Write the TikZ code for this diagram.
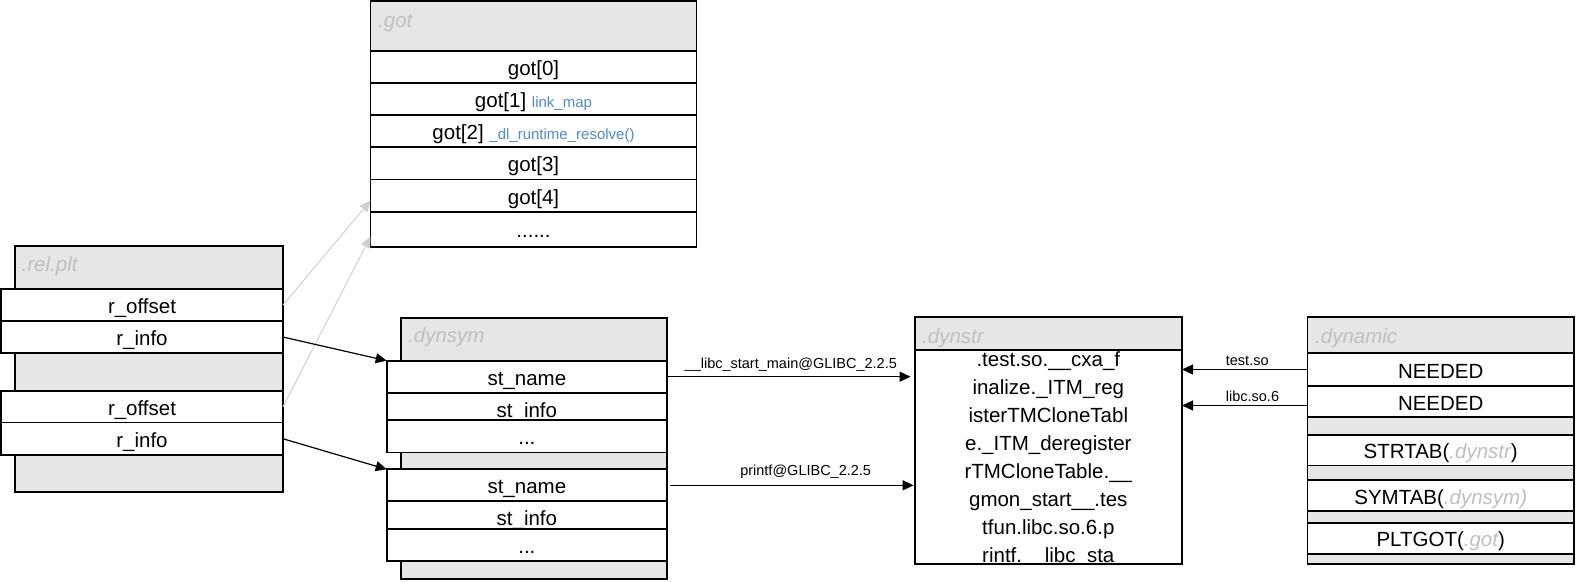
\documentclass[tikz,border=0pt]{standalone}
\usepackage{fontspec}
\setmainfont{Liberation Sans}
\usetikzlibrary{arrows.meta,positioning}
\definecolor{hdrgray}{RGB}{230,230,230}
\definecolor{ttlgray}{RGB}{192,192,192}
\definecolor{lnkblue}{RGB}{79,139,206}
\definecolor{ptrgray}{RGB}{208,208,208}
\newcommand{\gotnote}[1]{{\color{lnkblue}\fontsize{15}{18}\selectfont #1}}
\newcommand{\sectxt}[1]{{\color{ttlgray}\itshape #1}}
\tikzset{
  sect/.style={draw,line width=1.8pt,fill=hdrgray,anchor=north west,inner sep=0pt,outer sep=0pt},
  cell/.style={draw,line width=1.8pt,fill=white,anchor=north west,inner sep=0pt,outer sep=0pt,
    font=\fontsize{20.5}{24}\selectfont,text height=18pt,text depth=1pt},
  ttl/.style={anchor=base west,text=ttlgray,font=\fontsize{20.5}{24}\selectfont\itshape,inner sep=0pt},
  lbl/.style={font=\fontsize{14.5}{17}\selectfont,inner sep=0pt},
}

\begin{document}
\begin{tikzpicture}[x=1pt,y=-1pt,>={Triangle[length=11pt,width=10pt]}]
\useasboundingbox (0,0) rectangle (1576,581);
% .got
\node[sect,minimum width=326pt,minimum height=245.7pt] (got) at (370.5,1) {};
\node[ttl] (gotT) at (378,27) {.got};
\foreach \t [count=\i from 0] in {{got[0]},{got[1] \gotnote{link\_map}},{got[2] \gotnote{\_dl\_runtime\_resolve()}},{got[3]},{got[4]}}
  \node[cell,minimum width=326pt,minimum height=32.2pt] (g\i) at (370.5,{50.7+32.2*\i}) {\t};
\node[cell,minimum width=326pt,minimum height=35pt] (g5) at (370.5,211.7) {......};
% .rel.plt
\node[sect,minimum width=268.2pt,minimum height=246pt] (rel) at (14.8,245.7) {};
\node[ttl] (relT) at (21.5,271.5) {.rel.plt};
\foreach \k/\y in {1/289.3,2/391} {
  \node[cell,minimum width=282pt,minimum height=31.5pt] (ro\k) at (1,\y) {r\_offset};
  \node[cell,minimum width=282pt,minimum height=32.5pt] (ri\k) at (1,{\y+31.5}) {r\_info};
}
% .dynsym
\node[sect,minimum width=266.4pt,minimum height=261.3pt] (dsym) at (400.6,317.7) {};
\node[ttl] (dsymT) at (408,342) {.dynsym};
\foreach \k/\y in {1/360.7,2/469.3} {
  \node[cell,minimum width=280.3pt,minimum height=32pt] (sn\k) at (386.7,\y) {st\_name};
  \node[cell,minimum width=280.3pt,minimum height=32pt] (si\k) at (386.7,{\y+32}) {st\_info};
  \node[cell,minimum width=280.3pt,minimum height=32.3pt] (dd\k) at (386.7,{\y+59.4}) {...};
}
% .dynstr
\node[sect,minimum width=267.4pt,minimum height=247pt] (dstr) at (914.6,317.3) {};
\node[ttl] (dstrT) at (922,343.5) {.dynstr};
\node[cell,minimum width=267.4pt,minimum height=214.3pt] (strs) at (914.6,350) {};
\begin{scope}
\clip (915.5,351) rectangle (1181.1,563.4);
\foreach \t [count=\n from 0] in {.test.so.\_\_cxa\_f,inalize.\_ITM\_reg,isterTMCloneTabl,e.\_ITM\_deregister,rTMCloneTable.\_\_,gmon\_start\_\_.tes,tfun.libc.so.6.p,rintf.\_\_libc\_sta}
  \node[anchor=base,inner sep=0pt,font=\fontsize{20.5}{24}\selectfont] (s\n) at (1048.3,{366.7+28*\n}) {\t};
\end{scope}
% .dynamic
\node[sect,minimum width=266.6pt,minimum height=247pt] (dyn) at (1307.4,317.3) {};
\node[ttl] (dynT) at (1315,343.5) {.dynamic};
\node[cell,minimum width=266.6pt,minimum height=32.4pt] (n1) at (1307.4,353.3) {NEEDED};
\node[cell,minimum width=266.6pt,minimum height=31.6pt] (n2) at (1307.4,385.7) {NEEDED};
\node[cell,minimum width=266.6pt,minimum height=30.5pt] (stt) at (1307.4,435) {STRTAB(\sectxt{.dynstr})};
\node[cell,minimum width=266.6pt,minimum height=31pt] (syt) at (1307.4,480) {SYMTAB(\sectxt{.dynsym)}};
\node[cell,minimum width=266.6pt,minimum height=31.3pt] (pgt) at (1307.4,522.7) {PLTGOT(\sectxt{.got})};
% pointers
\draw[->,ptrgray,line width=1pt] (ro1.east) -- ([yshift=-5pt]g4.west);
\draw[->,ptrgray,line width=1pt] (ro2.east) -- ([yshift=-7.5pt]g5.west);
\foreach \k in {1,2} \draw[->,line width=1.2pt] (ri\k.east) -- (sn\k.north west);
\draw[->,line width=1.2pt,shorten >=4pt] (sn1.east) -- (sn1.east -| dstr.west)
  node[lbl,pos=0.5,anchor=base,yshift=8pt] (l1) {\_\_libc\_start\_main@GLIBC\_2.2.5};
\draw[->,line width=1.2pt,shorten <=3pt,shorten >=1pt] (sn2.east) -- (sn2.east -| dstr.west)
  node[lbl,pos=0.56,anchor=base,yshift=10pt] (l2) {printf@GLIBC\_2.2.5};
\draw[->,line width=1.2pt] (n1.west) -- (n1.west -| dstr.east)
  node[lbl,pos=0.655,anchor=base west,yshift=4pt] (l3) {test.so};
\draw[->,line width=1.2pt] ([yshift=-4pt]n2.west) -- ([yshift=-4pt]n2.west -| dstr.east)
  node[lbl,pos=0.655,anchor=base west,yshift=4pt] (l4) {libc.so.6};
\end{tikzpicture}
\end{document}
